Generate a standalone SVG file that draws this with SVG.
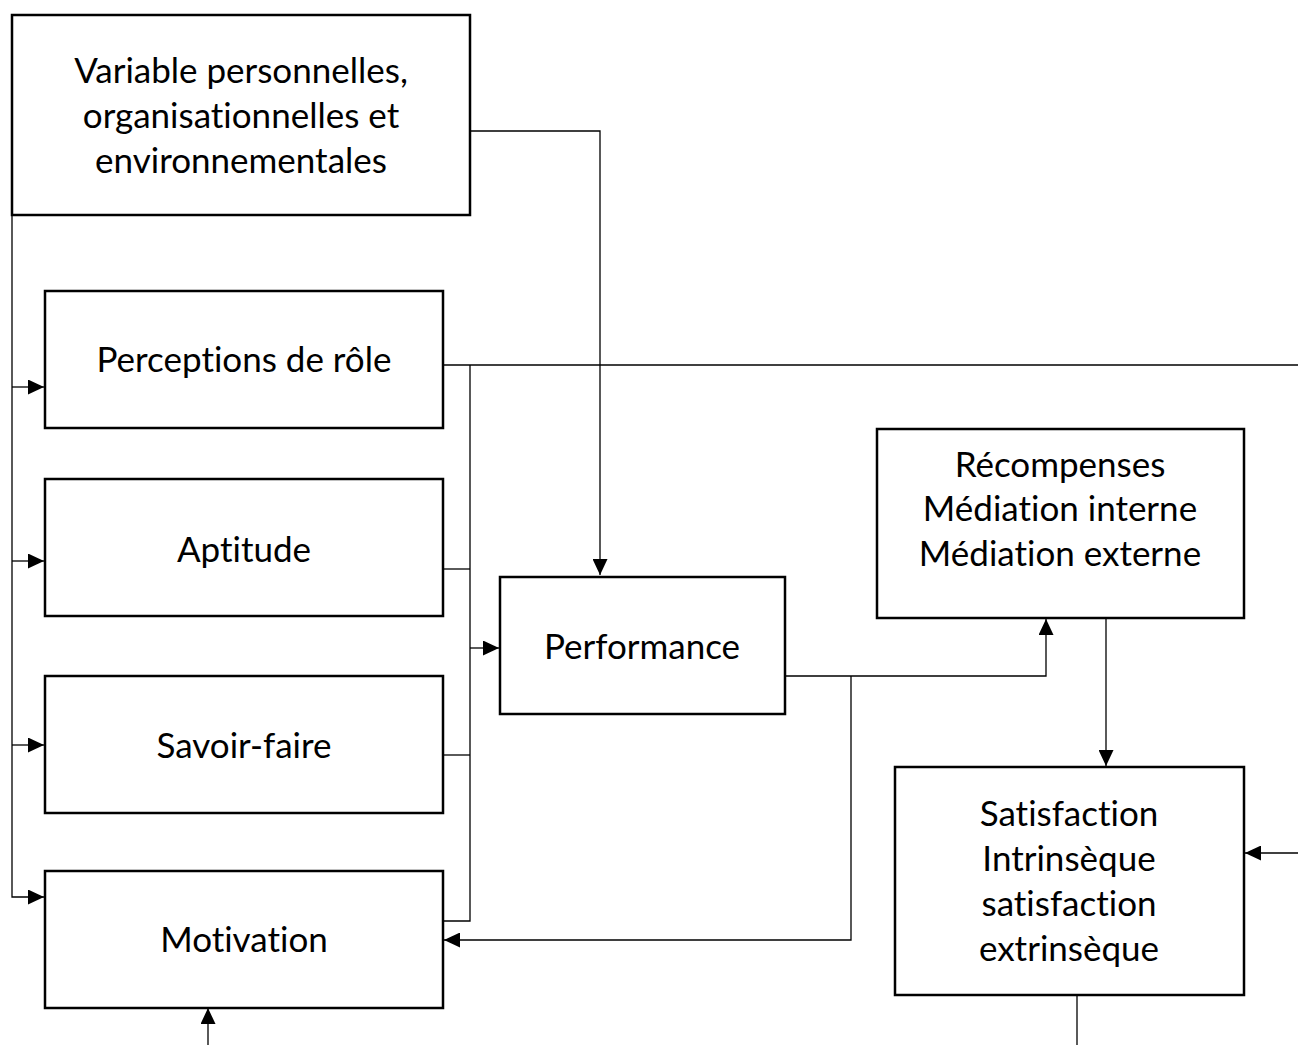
<svg xmlns="http://www.w3.org/2000/svg" width="1298" height="1045" viewBox="0 0 1298 1045">
<style>
.box{fill:#fff;stroke:#000;stroke-width:2.5}
.t{font-family:Lato,"Liberation Sans",sans-serif;font-size:35px;fill:#000;text-anchor:middle;font-variant-ligatures:none;font-feature-settings:"liga" 0,"clig" 0}
.c{fill:none;stroke:#000;stroke-width:1.3}
</style>
<defs>
<marker id="ah" markerUnits="userSpaceOnUse" markerWidth="17" markerHeight="15" refX="16" refY="7.5" orient="auto">
<path d="M0,0 L16,7.5 L0,15 Z" fill="#000"/>
</marker>
</defs>
<rect width="1298" height="1045" fill="#fff"/>
<g id="connectors">
<path class="c" d="M470,131 H600 V575" marker-end="url(#ah)"/>
<path class="c" d="M12,215 V897 H44" marker-end="url(#ah)"/>
<path class="c" d="M12,387 H44" marker-end="url(#ah)"/>
<path class="c" d="M12,561 H44" marker-end="url(#ah)"/>
<path class="c" d="M12,745 H44" marker-end="url(#ah)"/>
<path class="c" d="M443,365 H1298"/>
<path class="c" d="M470,365 V921 H443"/>
<path class="c" d="M443,569 H470"/>
<path class="c" d="M443,755 H470"/>
<path class="c" d="M470,648 H499" marker-end="url(#ah)"/>
<path class="c" d="M785,676 H1046 V619" marker-end="url(#ah)"/>
<path class="c" d="M851,676 V940 H444" marker-end="url(#ah)"/>
<path class="c" d="M1106,618 V766" marker-end="url(#ah)"/>
<path class="c" d="M1298,853 H1245" marker-end="url(#ah)"/>
<path class="c" d="M1077,995 V1045"/>
<path class="c" d="M208,1045 V1008" marker-end="url(#ah)"/>
</g>
<g id="n-variables">
<rect class="box" x="12" y="15" width="458" height="200"/>
<text class="t" x="241" y="83">Variable personnelles,</text>
<text class="t" x="241" y="128">organisationnelles et</text>
<text class="t" x="241" y="173">environnementales</text>
</g>
<g id="n-perceptions">
<rect class="box" x="45" y="291" width="398" height="137"/>
<text class="t" x="244" y="372">Perceptions de rôle</text>
</g>
<g id="n-aptitude">
<rect class="box" x="45" y="479" width="398" height="137"/>
<text class="t" x="244" y="562">Aptitude</text>
</g>
<g id="n-savoir">
<rect class="box" x="45" y="676" width="398" height="137"/>
<text class="t" x="244" y="758">Savoir-faire</text>
</g>
<g id="n-motivation">
<rect class="box" x="45" y="871" width="398" height="137"/>
<text class="t" x="244" y="952">Motivation</text>
</g>
<g id="n-performance">
<rect class="box" x="500" y="577" width="285" height="137"/>
<text class="t" x="642" y="659">Performance</text>
</g>
<g id="n-recompenses">
<rect class="box" x="877" y="429" width="367" height="189"/>
<text class="t" x="1060" y="477">Récompenses</text>
<text class="t" x="1060" y="521">Médiation interne</text>
<text class="t" x="1060" y="566">Médiation externe</text>
</g>
<g id="n-satisfaction">
<rect class="box" x="895" y="767" width="349" height="228"/>
<text class="t" x="1069" y="826">Satisfaction</text>
<text class="t" x="1069" y="871">Intrinsèque</text>
<text class="t" x="1069" y="916">satisfaction</text>
<text class="t" x="1069" y="961">extrinsèque</text>
</g>
</svg>
